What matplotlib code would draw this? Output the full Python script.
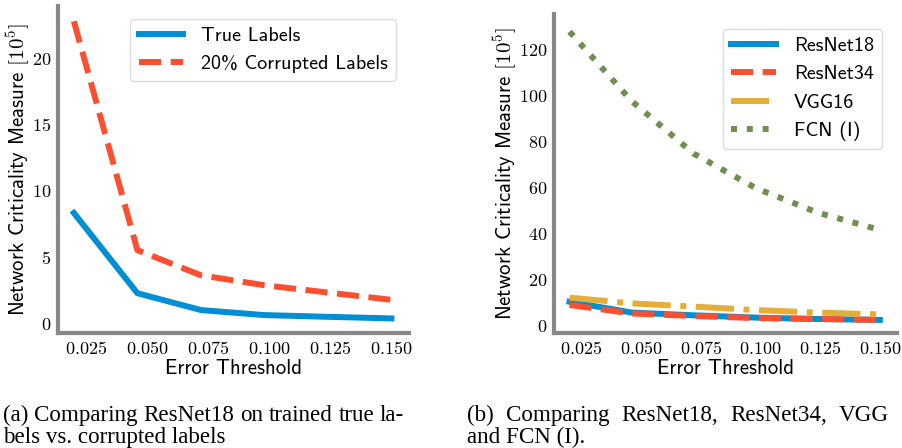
import numpy as np
import matplotlib
matplotlib.use('Agg')
import matplotlib.pyplot as plt

plt.rcParams['mathtext.fontset'] = 'cm'

# error thresholds used on the x axis
thresholds = [0.020, 0.046, 0.072, 0.098, 0.124, 0.150]
xtick_vals = [0.025, 0.050, 0.075, 0.100, 0.125, 0.150]
xtick_labels = ['0.025', '0.050', '0.075', '0.100', '0.125', '0.150']

# (a) resnet18 true vs corrupted labels
true_labels = [8.3, 2.25, 0.98, 0.6, 0.47, 0.35]
corrupted_labels = [22.75, 5.5, 3.6, 2.85, 2.3, 1.75]
ytick_a = [0, 5, 10, 15, 20]

# (b) architectures
resnet18 = [10.1, 5.4, 4.2, 3.2, 2.6, 2.2]
resnet34 = [8.7, 5.0, 3.9, 3.0, 2.6, 2.2]
vgg16 = [11.9, 9.4, 8.0, 6.5, 5.4, 4.6]
fcn = [127.7, 97.5, 74.6, 59.6, 48.9, 41.4]
ytick_b = [0, 20, 40, 60, 80, 100, 120]

colors = {'blue': '#008fd5', 'red': '#fc4f30', 'yellow': '#e5ae38', 'green': '#6d904f'}

caption_a = ['(a) Comparing ResNet18 on trained true la-', 'bels vs. corrupted labels']
caption_b = ['(b) Comparing ResNet18, ResNet34, VGG', 'and FCN (I).']

SANS = 'cmss10'  # computer modern sans shipped with matplotlib


def style_axes(ax, yticks):
    for s in ['top', 'right']:
        ax.spines[s].set_visible(False)
    for s in ['left', 'bottom']:
        ax.spines[s].set_color('#888888')
        ax.spines[s].set_linewidth(3)
    ax.set_xticks(xtick_vals)
    ax.set_xticklabels(['$' + t + '$' for t in xtick_labels])
    ax.set_yticks(yticks)
    ax.set_yticklabels(['$%d$' % t for t in yticks])
    ax.tick_params(length=0, labelsize=13, pad=5)
    ax.set_xlim(0.0135, 0.1572)
    ax.set_xlabel('Error Threshold', family=SANS, fontsize=15, labelpad=1)
    ax.set_ylabel(r'Network Criticality Measure $[10^5]$', family=SANS, fontsize=15, labelpad=-1)


fig = plt.figure(figsize=(9.02, 4.48), dpi=100)

ax1 = fig.add_axes([0.0643, 0.2567, 0.3891, 0.7299])
ax1.plot(thresholds, true_labels, color=colors['blue'], lw=4.3, label='True Labels')
ax1.plot(thresholds, corrupted_labels, color=colors['red'], lw=4.3, ls='--', label='20% Corrupted Labels')
style_axes(ax1, ytick_a)
ax1.set_ylim(-0.75, 23.9)
leg = ax1.legend(loc='upper right', prop={'family': SANS, 'size': 14.5}, handlelength=2.2, labelspacing=0.5,
                 borderaxespad=0.65, handletextpad=0.9, fancybox=True, framealpha=1)
leg.get_frame().set_edgecolor('#dddddd')

ax2 = fig.add_axes([0.6142, 0.2567, 0.3803, 0.7121])
ax2.plot(thresholds, resnet18, color=colors['blue'], lw=4.3, label='ResNet18')
ax2.plot(thresholds, resnet34, color=colors['red'], lw=4.3, ls='--', label='ResNet34')
ax2.plot(thresholds, vgg16, color=colors['yellow'], lw=4.3, ls='-.', label='VGG16')
ax2.plot(thresholds, fcn, color=colors['green'], lw=4.3, ls=':', label='FCN (I)')
style_axes(ax2, ytick_b)
ax2.set_ylim(-3.5, 135.4)
leg = ax2.legend(loc='upper right', prop={'family': SANS, 'size': 14.5}, handlelength=2.2, labelspacing=0.5,
                 borderaxespad=0.75, handletextpad=0.9, fancybox=True, framealpha=1)
leg.get_frame().set_edgecolor('#dddddd')

# captions, first line justified like the latex column
renderer = fig.canvas.get_renderer()
W, H = fig.bbox.width, fig.bbox.height


def caption_line(text, x0, y, x1=None):
    kw = dict(family='Liberation Serif', fontsize=16.6, va='baseline')
    if x1 is None:
        fig.text(x0 / W, 1 - y / H, text, **kw)
        return
    words = text.split(' ')
    items = [fig.text(0, 1 - y / H, w, **kw) for w in words]
    widths = [t.get_window_extent(renderer).width for t in items]
    gap = (x1 - x0 - sum(widths)) / (len(words) - 1)
    x = x0
    for t, w in zip(items, widths):
        t.set_x(x / W)
        x += w + gap


caption_line(caption_a[0], 3, 421, 404)
caption_line(caption_a[1], 3, 443)
caption_line(caption_b[0], 467, 421, 889)
caption_line(caption_b[1], 467, 443)

fig.savefig('out.png', dpi=100)
